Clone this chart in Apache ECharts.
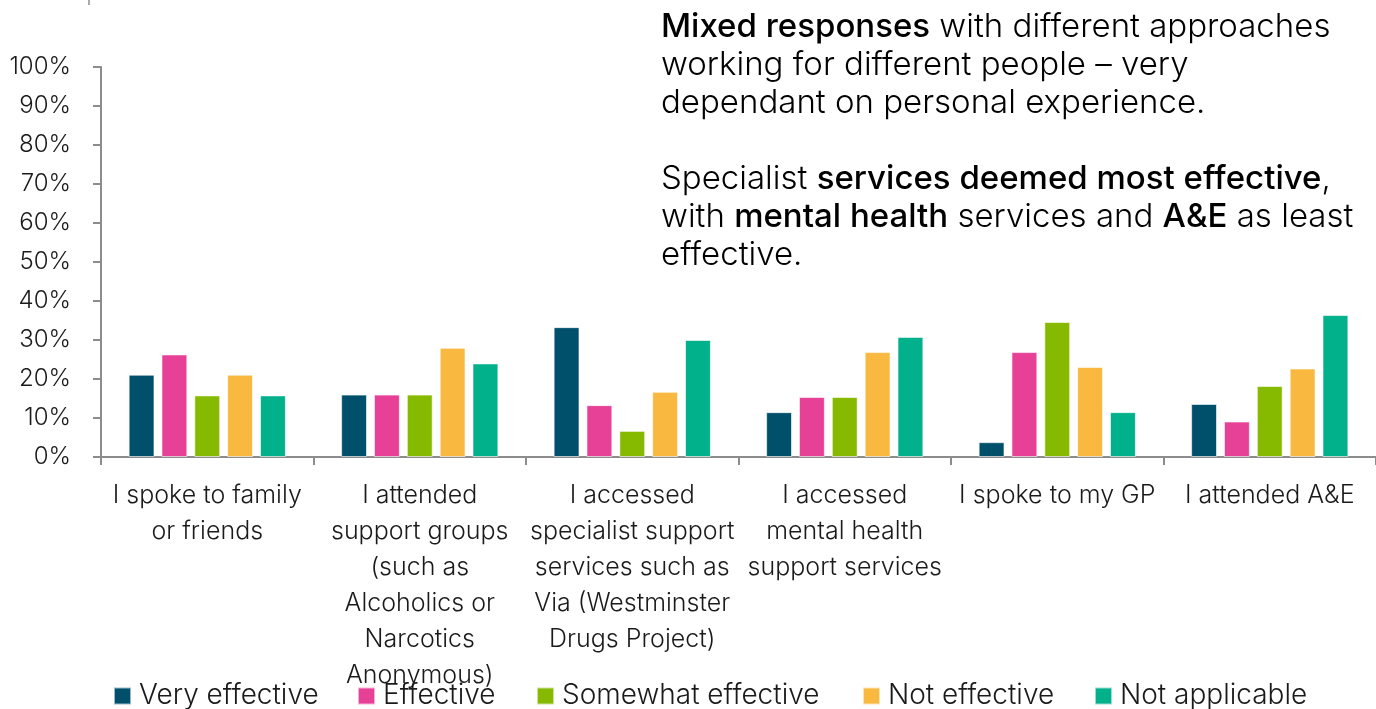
<!DOCTYPE html>
<html>
<head>
<meta charset="utf-8">
<script src="https://cdn.jsdelivr.net/npm/echarts@6/dist/echarts.min.js"></script>
<style>
  html, body { margin: 0; padding: 0; background: #fff; }
  #chart { width: 1376px; height: 709px; }
</style>
</head>
<body>
<div id="chart"></div>
<script>
// Survey: how effective each kind of support was (share of respondents)
const categories = [
  'I spoke to family\nor friends',
  'I attended\nsupport groups\n(such as\nAlcoholics or\nNarcotics\nAnonymous)',
  'I accessed\nspecialist support\nservices such as\nVia (Westminster\nDrugs Project)',
  'I accessed\nmental health\nsupport services',
  'I spoke to my GP',
  'I attended A&E'
];
const veryEffective     = [21.1, 16.0, 33.3, 11.5,  3.8, 13.6];
const effective         = [26.3, 16.0, 13.3, 15.4, 26.9,  9.1];
const somewhatEffective = [15.8, 16.0,  6.7, 15.4, 34.6, 18.2];
const notEffective      = [21.1, 28.0, 16.7, 26.9, 23.1, 22.7];
const notApplicable     = [15.8, 24.0, 30.0, 30.8, 11.5, 36.4];

const seriesNames  = ['Very effective', 'Effective', 'Somewhat effective', 'Not effective', 'Not applicable'];
const seriesValues = [veryEffective, effective, somewhatEffective, notEffective, notApplicable];
const seriesColors = ['#00506b', '#e64097', '#86ba00', '#f9b83f', '#00b18c'];
const yTicks = { min: 0, max: 100, step: 10 };

const FONT = 'Inter, "Open Sans", sans-serif';
const AXIS_GREY = '#8c8c8c';

const chart = echarts.init(document.getElementById('chart'), null, { renderer: 'canvas' });

const series = seriesNames.map((name, i) => ({
  name,
  type: 'bar',
  data: seriesValues[i],
  barGap: '27%',
  barCategoryGap: '26%',
  itemStyle: { color: seriesColors[i], borderColor: 'rgba(255,255,255,0.6)', borderWidth: 1 }
}));

// one legend per entry so each item sits at its own spot along the bottom
const legendLefts = [108, 352, 531, 857, 1089];
const legends = seriesNames.map((name, i) => ({
  data: [name],
  left: legendLefts[i],
  top: 677,
  itemWidth: 17,
  itemHeight: 17,
  itemGap: 0,
  icon: 'rect',
  selectedMode: false,
  textStyle: { fontFamily: FONT, fontSize: 28, fontWeight: 300, color: '#1a1a1a', padding: [0, 0, 0, 3] }
}));

const bold = { fontFamily: FONT, fontSize: 33, fontWeight: 500, color: '#000' };
const plain = { fontFamily: FONT, fontSize: 33, fontWeight: 300, color: '#111' };

chart.setOption({
  animation: false,
  backgroundColor: '#ffffff',
  grid: { left: 101, right: -3, top: 67, bottom: 252, containLabel: false },
  legend: legends,
  xAxis: {
    type: 'category',
    data: categories,
    axisLine: { lineStyle: { color: AXIS_GREY, width: 2 } },
    axisTick: { show: true, length: 8, lineStyle: { color: AXIS_GREY, width: 2 } },
    axisLabel: {
      interval: 0,
      margin: 20,
      fontFamily: FONT,
      fontSize: 25,
      fontWeight: 300,
      lineHeight: 36,
      color: '#1a1a1a',
      align: 'center'
    }
  },
  yAxis: {
    type: 'value',
    min: yTicks.min,
    max: yTicks.max,
    interval: yTicks.step,
    axisLine: { show: true, lineStyle: { color: AXIS_GREY, width: 2 } },
    axisTick: { show: true, length: 8, lineStyle: { color: AXIS_GREY, width: 2 } },
    splitLine: { show: false },
    axisLabel: {
      margin: 30,
      fontFamily: FONT,
      fontSize: 24,
      fontWeight: 300,
      color: '#1a1a1a',
      formatter: v => v + '%'
    }
  },
  graphic: [
    {
      type: 'line',
      shape: { x1: 89, y1: 0, x2: 89, y2: 5 },
      style: { stroke: AXIS_GREY, lineWidth: 1.5 }
    },
    {
      type: 'text',
      left: 661,
      top: 8,
      style: {
        text: '{b|Mixed responses} {p|with different approaches}\n' +
              '{p|working for different people – very}\n' +
              '{p|dependant on personal experience.}\n' +
              '{p| }\n' +
              '{p|Specialist} {b|services deemed most effective}{p|,}\n' +
              '{p|with} {b|mental health} {p|services and} {b|A&E} {p|as least}\n' +
              '{p|effective.}',
        lineHeight: 38,
        font: '33px ' + FONT,
        rich: {
          b: Object.assign({ lineHeight: 38 }, bold),
          p: Object.assign({ lineHeight: 38 }, plain)
        }
      }
    }
  ],
  series
});
</script>
</body>
</html>
